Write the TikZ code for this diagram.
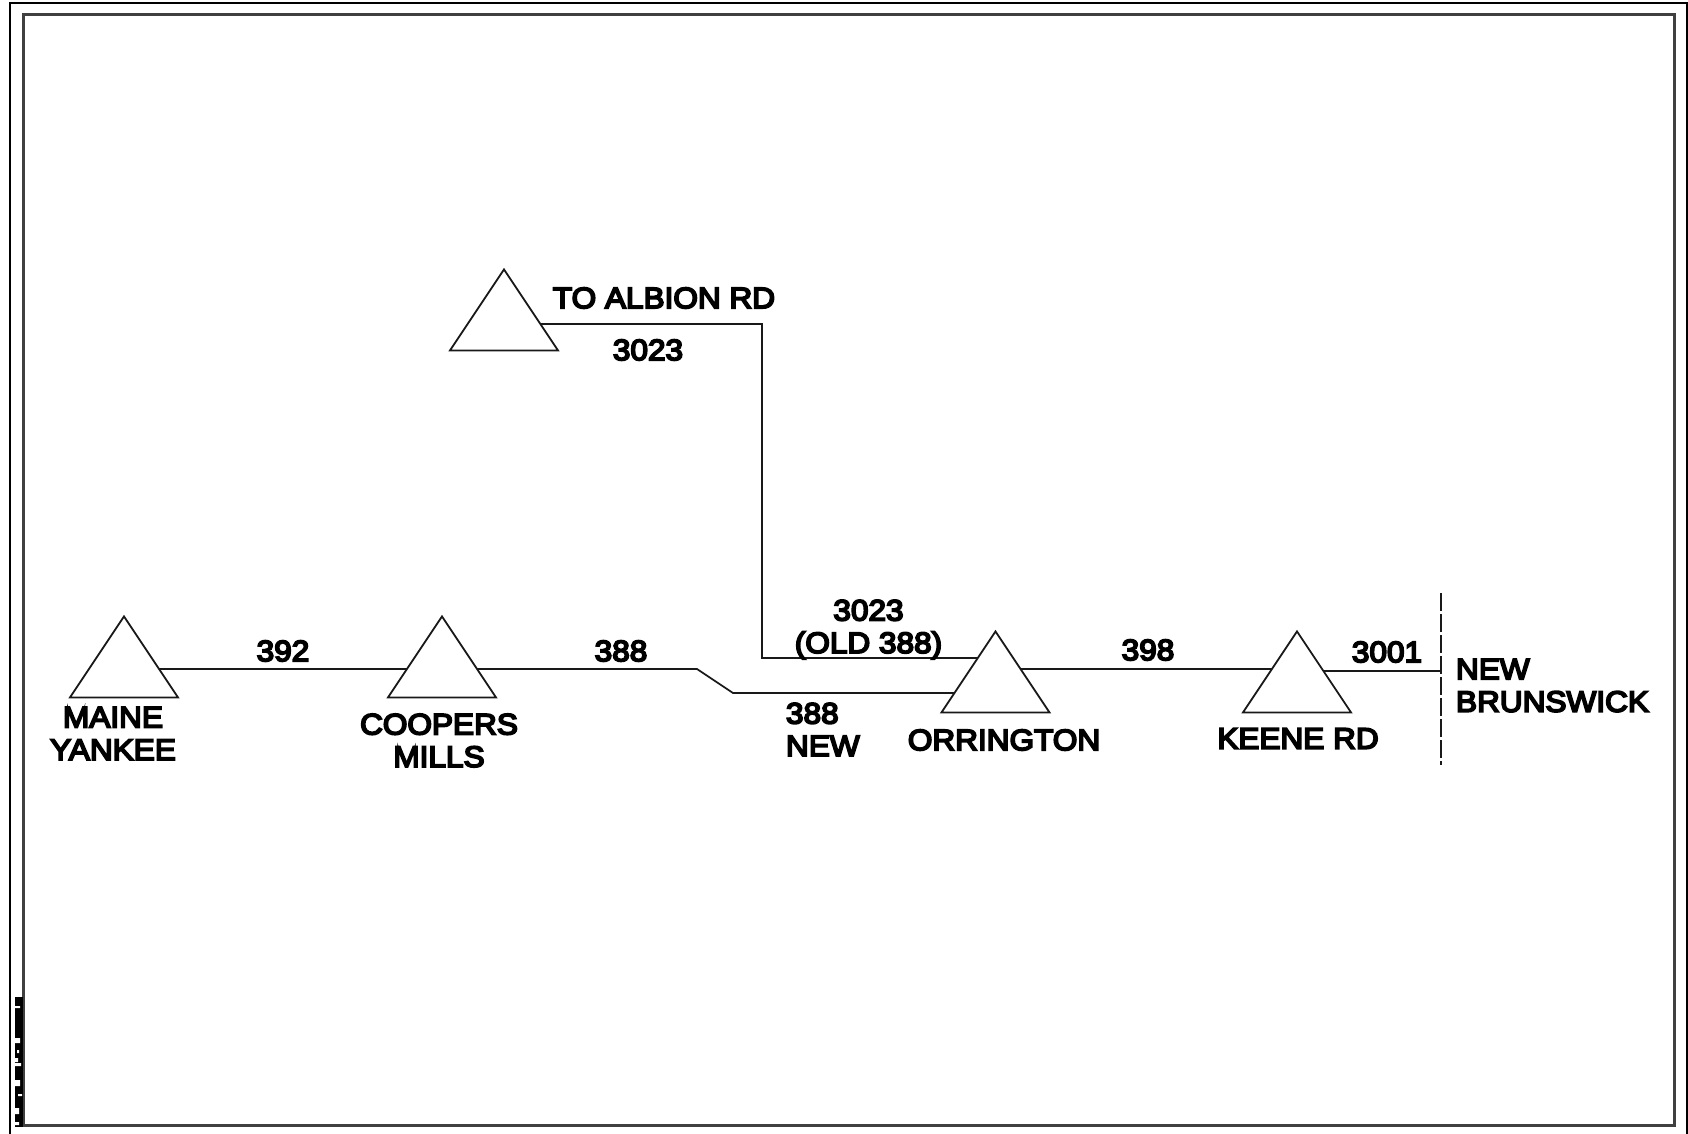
\documentclass[tikz,border=0pt]{standalone}
\usepackage{fontspec}
\setmainfont[FakeStretch=1.07,FakeBold=6]{Liberation Sans}
\usetikzlibrary{shapes.geometric,backgrounds}
\tikzset{
  station/.style={isosceles triangle,isosceles triangle stretches,shape border rotate=90,
    minimum width=108pt,minimum height=81pt,inner sep=0pt,outer sep=0pt,
    draw=black!90,line width=1.8pt,fill=white},
  wire/.style={draw=black!90,line width=1.8pt,line join=miter},
  frameline/.style={draw=black!75,line width=3pt},
  lbl/.style={font=\fontsize{29.5}{32.5}\selectfont,inner sep=0pt,outer sep=0pt,text=black,align=center},
  lblleft/.style={lbl,align=left,anchor=west}
}
\begin{document}
\begin{tikzpicture}[x=1pt,y=-1pt]
\useasboundingbox (0,0) rectangle (1688,1134);
% frames
\draw[draw=black,line width=2.5pt] (10,1134) -- (10,3) -- (1687,3) -- (1687,1134);
\draw[frameline] (23,15) rectangle (1674,1125);
% bar
\fill[black] (15,997) rectangle (23,1127);
\fill[white] (15,1006) rectangle (20,1008) (15,1038) rectangle (20,1043) (17,1050) rectangle (19,1053)
  (15,1058) rectangle (18,1062) (15,1063) rectangle (21,1066) (15,1080) rectangle (20,1086)
  (18,1094) rectangle (22,1096) (15,1108) rectangle (19,1114) (15,1122) rectangle (19,1125);
% stations
\node[station] (maine) at (124,668.5) {};
\node[station] (coopers) at (442,668.5) {};
\node[station] (orrington) at (995.5,683.5) {};
\node[station] (keene) at (1297,683.5) {};
\node[station] (albion) at (504,321.5) {};
\coordinate (bend1) at (697,669);
\coordinate (bend2) at (733,693);
\coordinate (corner1) at (762,324);
\coordinate (corner2) at (762,658);
\coordinate (nbtop) at (1441,593);
\coordinate (nbbot) at (1441,765);
\coordinate (nbjoin) at (1441,671);
\begin{scope}[on background layer]
\draw[wire] ([yshift=-0.5pt]maine.center) -- ([yshift=-0.5pt]coopers.center);
\draw[wire] ([yshift=-0.5pt]coopers.center) -- (bend1) -- (bend2) -- ([yshift=-9.5pt]orrington.center);
\draw[wire] ([yshift=-2.5pt]albion.center) -- (corner1) -- (corner2) -- ([yshift=25.5pt]orrington.center);
\draw[wire] ([yshift=14.5pt]orrington.center) -- ([yshift=14.5pt]keene.center);
\draw[wire] ([yshift=12.5pt]keene.center) -- (nbjoin);
\end{scope}
\draw[wire,line width=1.4pt,dash pattern=on 18pt off 3pt] (nbtop) -- (nbbot);
% labels
\node[lbl] (tmaine) at (113,733.5) {MAINE\\YANKEE};
\node[lbl] (tcoopers) at (439,740.5) {COOPERS\\MILLS};
\node[lbl] (tto) at (664,298) {TO ALBION RD};
\node[lbl] (t3023a) at (648,350) {3023};
\node[lbl] (t392) at (283,651) {392};
\node[lbl] (t388) at (621,651) {388};
\node[lbl] (t3023b) at (868.5,629.5) {3023\\(OLD 388)};
\node[lblleft] (t388n) at (786,729.5) {388\\NEW};
\node[lbl] (torr) at (1004,740) {ORRINGTON};
\node[lbl] (t398) at (1148,650) {398};
\node[lbl] (t3001) at (1387,652) {3001};
\node[lbl] (tkeene) at (1298,738.5) {KEENE RD};
\node[lblleft] (tnb) at (1456,685.5) {NEW\\BRUNSWICK};
\end{tikzpicture}
\end{document}
